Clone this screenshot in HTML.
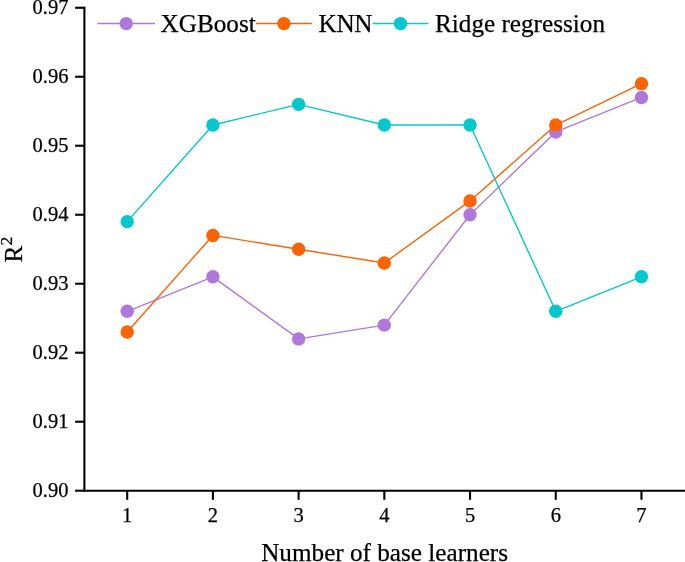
<!DOCTYPE html><html><head><meta charset="utf-8"><title>R2 vs number of base learners</title>
<style>html,body{margin:0;padding:0;background:#fff;overflow:hidden}svg{display:block}text{stroke:#000;stroke-width:0.25px;font-family:"Liberation Serif","Times New Roman",serif;fill:#000}</style></head><body>
<svg width="685" height="562" viewBox="0 0 685 562">
<rect width="685" height="562" fill="#fff"/>
<polyline points="127.20,311.32 212.91,276.82 298.62,338.92 384.33,325.12 470.04,214.73 555.75,131.94 641.46,97.44" fill="none" stroke="#af78dc" stroke-width="1.4" stroke-linejoin="round"/>
<circle cx="127.20" cy="311.32" r="6.7" fill="#af78dc"/>
<circle cx="212.91" cy="276.82" r="6.7" fill="#af78dc"/>
<circle cx="298.62" cy="338.92" r="6.7" fill="#af78dc"/>
<circle cx="384.33" cy="325.12" r="6.7" fill="#af78dc"/>
<circle cx="470.04" cy="214.73" r="6.7" fill="#af78dc"/>
<circle cx="555.75" cy="131.94" r="6.7" fill="#af78dc"/>
<circle cx="641.46" cy="97.44" r="6.7" fill="#af78dc"/>
<polyline points="127.20,332.02 212.91,235.43 298.62,249.22 384.33,263.02 470.04,200.93 555.75,125.04 641.46,83.64" fill="none" stroke="#fa6405" stroke-width="1.4" stroke-linejoin="round"/>
<circle cx="127.20" cy="332.02" r="6.7" fill="#fa6405"/>
<circle cx="212.91" cy="235.43" r="6.7" fill="#fa6405"/>
<circle cx="298.62" cy="249.22" r="6.7" fill="#fa6405"/>
<circle cx="384.33" cy="263.02" r="6.7" fill="#fa6405"/>
<circle cx="470.04" cy="200.93" r="6.7" fill="#fa6405"/>
<circle cx="555.75" cy="125.04" r="6.7" fill="#fa6405"/>
<circle cx="641.46" cy="83.64" r="6.7" fill="#fa6405"/>
<polyline points="127.20,221.63 212.91,125.04 298.62,104.34 384.33,125.04 470.04,125.04 555.75,311.32 641.46,276.82" fill="none" stroke="#06c8cc" stroke-width="1.4" stroke-linejoin="round"/>
<circle cx="127.20" cy="221.63" r="6.7" fill="#06c8cc"/>
<circle cx="212.91" cy="125.04" r="6.7" fill="#06c8cc"/>
<circle cx="298.62" cy="104.34" r="6.7" fill="#06c8cc"/>
<circle cx="384.33" cy="125.04" r="6.7" fill="#06c8cc"/>
<circle cx="470.04" cy="125.04" r="6.7" fill="#06c8cc"/>
<circle cx="555.75" cy="311.32" r="6.7" fill="#06c8cc"/>
<circle cx="641.46" cy="276.82" r="6.7" fill="#06c8cc"/>
<g stroke="#000" stroke-width="2.1" fill="none" stroke-linecap="butt">
<path d="M84.4 6.70V491.75"/>
<path d="M83.35000000000001 490.7H685"/>
<path d="M75.1 490.70H84.4"/>
<path d="M75.1 421.71H84.4"/>
<path d="M75.1 352.71H84.4"/>
<path d="M75.1 283.72H84.4"/>
<path d="M75.1 214.73H84.4"/>
<path d="M75.1 145.73H84.4"/>
<path d="M75.1 76.74H84.4"/>
<path d="M75.1 7.75H84.4"/>
<path d="M127.20 490.7V499.8"/>
<path d="M212.91 490.7V499.8"/>
<path d="M298.62 490.7V499.8"/>
<path d="M384.33 490.7V499.8"/>
<path d="M470.04 490.7V499.8"/>
<path d="M555.75 490.7V499.8"/>
<path d="M641.46 490.7V499.8"/>
</g>
<text x="68.4" y="497.00" font-size="20.5" text-anchor="end">0.90</text>
<text x="68.4" y="428.01" font-size="20.5" text-anchor="end">0.91</text>
<text x="68.4" y="359.01" font-size="20.5" text-anchor="end">0.92</text>
<text x="68.4" y="290.02" font-size="20.5" text-anchor="end">0.93</text>
<text x="68.4" y="221.03" font-size="20.5" text-anchor="end">0.94</text>
<text x="68.4" y="152.03" font-size="20.5" text-anchor="end">0.95</text>
<text x="68.4" y="83.04" font-size="20.5" text-anchor="end">0.96</text>
<text x="68.4" y="14.05" font-size="20.5" text-anchor="end">0.97</text>
<text x="127.20" y="522.1" font-size="20.5" text-anchor="middle">1</text>
<text x="212.91" y="522.1" font-size="20.5" text-anchor="middle">2</text>
<text x="298.62" y="522.1" font-size="20.5" text-anchor="middle">3</text>
<text x="384.33" y="522.1" font-size="20.5" text-anchor="middle">4</text>
<text x="470.04" y="522.1" font-size="20.5" text-anchor="middle">5</text>
<text x="555.75" y="522.1" font-size="20.5" text-anchor="middle">6</text>
<text x="641.46" y="522.1" font-size="20.5" text-anchor="middle">7</text>
<text x="384.6" y="560.5" font-size="25.2" text-anchor="middle">Number of base learners</text>
<text transform="translate(21.6 249.6) rotate(-90)" font-size="25.2" text-anchor="middle">R<tspan font-size="17.5" dy="-10">2</tspan></text>
<path d="M97.4 23.5H155.0" stroke="#af78dc" stroke-width="1.4"/>
<circle cx="126.2" cy="23.6" r="6.7" fill="#af78dc"/>
<text x="160.6" y="32.1" font-size="25.2">XGBoost</text>
<path d="M255.8 23.5H311.9" stroke="#fa6405" stroke-width="1.4"/>
<circle cx="283.9" cy="23.6" r="6.7" fill="#fa6405"/>
<text x="318.6" y="32.1" font-size="25.2" letter-spacing="-0.4">KNN</text>
<path d="M372.6 23.5H428.4" stroke="#06c8cc" stroke-width="1.4"/>
<circle cx="400.5" cy="23.6" r="6.7" fill="#06c8cc"/>
<text x="435.0" y="32.1" font-size="25.2">Ridge regression</text>
</svg></body></html>
